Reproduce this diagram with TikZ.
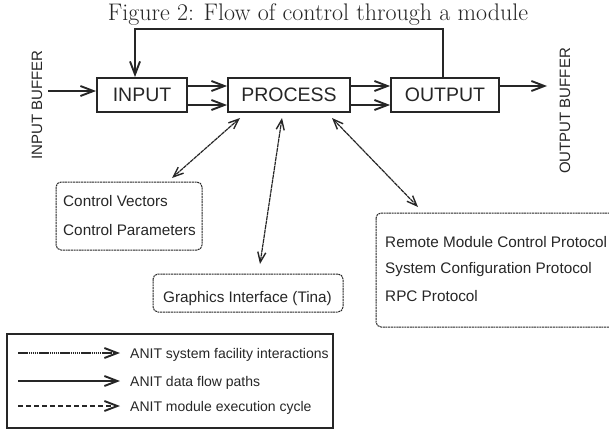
\documentclass[tikz,border=0pt]{standalone}
\usepackage{fontspec}
\newfontfamily\labelfont{Liberation Sans}
\usetikzlibrary{arrows.meta,calc}
\definecolor{ink}{gray}{0.15}
\tikzset{
  barb/.style={-{Straight Barb[length=13pt,width=10pt,line width=1.9pt]}},
  dbarb/.style={{Straight Barb[length=10pt,width=8pt,line width=1.4pt]}-{Straight Barb[length=10pt,width=8pt,line width=1.4pt]}},
  modbox/.style={draw=ink, line width=1.9pt, minimum height=34pt, inner sep=0pt,
    font=\labelfont\fontsize{19.5}{22}\selectfont, text=ink},
  infobox/.style={draw=ink, line width=1pt, dash pattern=on 2pt off 0.7pt,
    rounded corners=5pt},
  infotext/.style={font=\labelfont\fontsize{15.3}{18}\selectfont, text=ink, anchor=base west, inner sep=0pt},
  legendtext/.style={font=\labelfont\fontsize{14}{17}\selectfont, text=ink, anchor=base west, inner sep=0pt},
  dataflow/.style={draw=ink, line width=1.9pt, barb},
  facility/.style={draw=ink, line width=1.2pt, dash pattern=on 4pt off 0.6pt, dbarb},
  bufferlabel/.style={font=\labelfont\fontsize{15}{18}\selectfont, text=ink, rotate=90},
}
\begin{document}
\begin{tikzpicture}[x=1pt,y=-1pt]
\useasboundingbox (0,0) rectangle (609,431);

% title
\node[font=\fontsize{24}{28}\selectfont, text=ink] (title) at (318,15) {Figure 2: Flow of control through a module};

% module stages
\node[modbox, minimum width=90pt]  (input)   at (142,95) {INPUT};
\node[modbox, minimum width=122pt] (process) at (289,95) {PROCESS};
\node[modbox, minimum width=108pt] (output)  at (445,95) {OUTPUT};

% buffers
\node[bufferlabel] (inbuf)  at (37,105) {INPUT BUFFER};
\node[bufferlabel] (outbuf) at (565,111) {OUTPUT BUFFER};

% data flow paths
\coordinate (inA) at (48,91);
\draw[dataflow] (inA) -- (inA -| input.west);
\draw[dataflow] (input.east |- 0,86)  -- (process.west |- 0,86);
\draw[dataflow] (input.east |- 0,105) -- (process.west |- 0,105);
\draw[dataflow] (process.east |- 0,86)  -- (output.west |- 0,86);
\draw[dataflow] (process.east |- 0,105) -- (output.west |- 0,105);
\coordinate (outA) at (547,86);
\draw[dataflow] (output.east |- outA) -- (outA);

% execution cycle back to the input stage
\coordinate (fbR) at (443,29);
\coordinate (fbL) at (135,29);
\draw[draw=ink, line width=1.6pt, barb] (fbR |- output.north) -- (fbR) -- (fbL) -- (fbL |- input.north);

% facility boxes
\draw[infobox] (56,182) rectangle (202,250);
\node[infotext] (cv) at (63,206) {Control Vectors};
\node[infotext] (cp) at (63,235) {Control Parameters};

\draw[infobox] (153,274) rectangle (343,312);
\node[infotext] (gfx) at (163,302) {Graphics Interface (Tina)};

\draw[infobox] (376,213) rectangle (640,327);
\node[infotext] (rm)  at (385,247) {Remote Module Control Protocol};
\node[infotext] (sc)  at (385,273) {System Configuration Protocol};
\node[infotext] (rpc) at (385,301) {RPC Protocol};

% facility interactions
\coordinate (p1) at (240,118);
\coordinate (c1) at (172,178);
\coordinate (p2) at (282,118);
\coordinate (g1) at (260,264);
\coordinate (p3) at (332,118);
\coordinate (r1) at (418,207);
\draw[facility] (p1) -- (c1);
\draw[facility] (p2) -- (g1);
\draw[facility] (p3) -- (r1);

% legend
\draw[draw=ink, line width=1.6pt] (7,334) rectangle (333,428);
\coordinate (l1a) at (18,353); \coordinate (l1b) at (120,353);
\coordinate (l2a) at (18,381); \coordinate (l2b) at (120,381);
\coordinate (l3a) at (18,406); \coordinate (l3b) at (120,406);
\draw[draw=ink, line width=1.3pt, dash pattern=on 1.5pt off 0.6pt, barb] (l1a) -- (l1b);
\draw[draw=ink, line width=1.7pt, barb] (l2a) -- (l2b);
\draw[draw=ink, line width=1.7pt, dash pattern=on 5pt off 3pt, barb] (l3a) -- (l3b);
\node[legendtext] (t1) at (130,358) {ANIT system facility interactions};
\node[legendtext] (t2) at (130,386) {ANIT data flow paths};
\node[legendtext] (t3) at (130,411) {ANIT module execution cycle};
\end{tikzpicture}
\end{document}
